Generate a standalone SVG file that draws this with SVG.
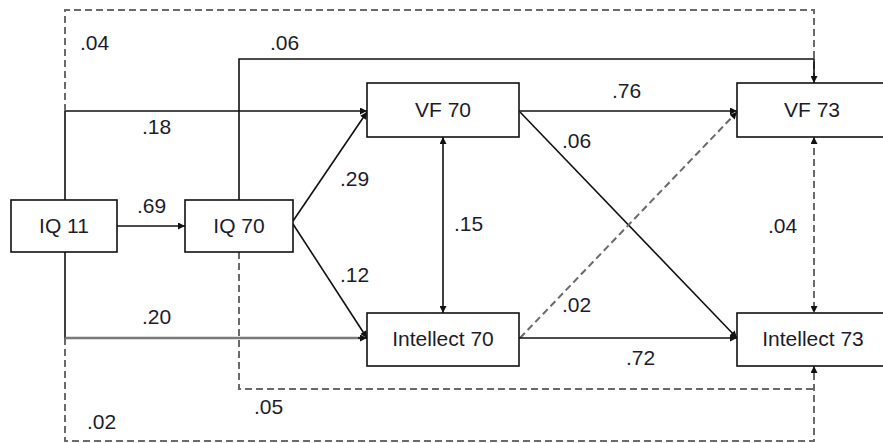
<svg xmlns="http://www.w3.org/2000/svg" width="883" height="443" viewBox="0 0 883 443">
  <style>
    .box { fill: #ffffff; stroke: #111111; stroke-width: 1.6; }
    .name { font-family: "Liberation Sans", Arial, sans-serif; font-size: 21px; fill: #1c1c2c; text-anchor: middle; }
    .coef { font-family: "Liberation Sans", Arial, sans-serif; font-size: 21px; fill: #1c1c2c; }
    .solid { fill: none; stroke: #111111; stroke-width: 1.6; }
    .thick { fill: none; stroke: #7a7a7a; stroke-width: 2.6; }
    .dash { fill: none; stroke: #6a6a6a; stroke-width: 2; stroke-dasharray: 7 4; }
  </style>
  <defs>
    <marker id="head" viewBox="0 0 10 10" refX="10" refY="5" markerWidth="8" markerHeight="7" markerUnits="userSpaceOnUse" orient="auto-start-reverse">
      <path d="M0,0 L10,5 L0,10 Z" fill="#111111"/>
    </marker>
  </defs>

  <rect width="883" height="443" fill="#ffffff"/>

  <!-- paths between the measures -->
  <g id="connectors">
    <!-- IQ 11 -> IQ 70 -->
    <path class="solid" d="M117,226 H185" marker-end="url(#head)"/>
    <!-- IQ 11 -> VF 70 (.18) -->
    <path class="solid" d="M65,200 V111 H367" marker-end="url(#head)"/>
    <!-- IQ 11 -> VF 73 (.04) -->
    <path class="dash" d="M65,111 V10 H814 V83"/>
    <!-- IQ 70 -> VF 73 (.06) -->
    <path class="solid" d="M239,200 V59 H814 V83" marker-end="url(#head)"/>
    <!-- IQ 70 -> VF 70 (.29) -->
    <path class="solid" d="M293,221 L367,112" marker-end="url(#head)"/>
    <!-- IQ 70 -> Intellect 70 (.12) -->
    <path class="solid" d="M293,224 L367,338" marker-end="url(#head)"/>
    <!-- IQ 11 -> Intellect 70 (.20) -->
    <path class="solid" d="M65,252 V338"/>
    <path class="thick" d="M65,338 H360"/>
    <path class="solid" d="M358,338 H367" marker-end="url(#head)"/>
    <!-- IQ 11 -> Intellect 73 (.02) -->
    <path class="dash" d="M65,338 V441 H814 V366" marker-end="url(#head)"/>
    <!-- IQ 70 -> Intellect 73 (.05) -->
    <path class="dash" d="M239,252 V389 H814"/>
    <!-- VF 70 <-> Intellect 70 (.15) -->
    <path class="solid" d="M443,137 V313" marker-start="url(#head)" marker-end="url(#head)"/>
    <!-- VF 70 -> VF 73 (.76) -->
    <path class="solid" d="M519,111 H737" marker-end="url(#head)"/>
    <!-- VF 70 -> Intellect 73 (.06) -->
    <path class="solid" d="M520,112 L737,338" marker-end="url(#head)"/>
    <!-- Intellect 70 -> VF 73 (.02) -->
    <path class="dash" d="M520,338 L737,112" marker-end="url(#head)"/>
    <!-- Intellect 70 -> Intellect 73 (.72) -->
    <path class="solid" d="M519,338 H737" marker-end="url(#head)"/>
    <!-- VF 73 <-> Intellect 73 (.04) -->
    <path class="dash" d="M814,137 V313" marker-start="url(#head)" marker-end="url(#head)"/>
  </g>

  <!-- coefficients -->
  <g id="coefficients">
    <text class="coef" x="80" y="50">.04</text>
    <text class="coef" x="270" y="50">.06</text>
    <text class="coef" x="142" y="134">.18</text>
    <text class="coef" x="137" y="213">.69</text>
    <text class="coef" x="340" y="186">.29</text>
    <text class="coef" x="340" y="282">.12</text>
    <text class="coef" x="142" y="324">.20</text>
    <text class="coef" x="612" y="98">.76</text>
    <text class="coef" x="562" y="148">.06</text>
    <text class="coef" x="454" y="231">.15</text>
    <text class="coef" x="768" y="233">.04</text>
    <text class="coef" x="562" y="312">.02</text>
    <text class="coef" x="626" y="365">.72</text>
    <text class="coef" x="254" y="414">.05</text>
    <text class="coef" x="87" y="429">.02</text>
  </g>

  <g id="iq11">
    <rect class="box" x="11" y="200" width="106" height="52"/>
    <text class="name" x="64" y="233">IQ 11</text>
  </g>
  <g id="iq70">
    <rect class="box" x="185" y="200" width="108" height="52"/>
    <text class="name" x="239" y="233">IQ 70</text>
  </g>
  <g id="vf70">
    <rect class="box" x="367" y="83" width="152" height="54"/>
    <text class="name" x="443" y="117">VF 70</text>
  </g>
  <g id="intellect70">
    <rect class="box" x="367" y="313" width="152" height="53"/>
    <text class="name" x="443" y="346">Intellect 70</text>
  </g>
  <g id="vf73">
    <rect class="box" x="737" y="83" width="154" height="54"/>
    <text class="name" x="812" y="117">VF 73</text>
  </g>
  <g id="intellect73">
    <rect class="box" x="737" y="313" width="154" height="53"/>
    <text class="name" x="813" y="346">Intellect 73</text>
  </g>
</svg>
